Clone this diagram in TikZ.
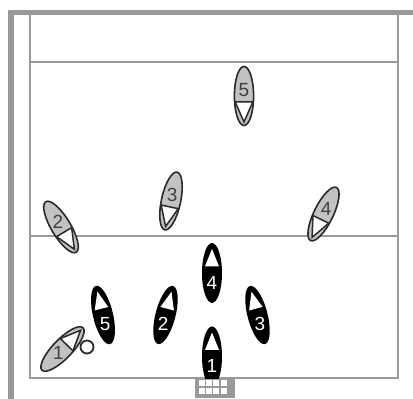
\documentclass[tikz,border=0pt]{standalone}
\usepackage{fontspec}
\setmainfont{Liberation Sans}
\definecolor{linegray}{HTML}{9A9A9A}
\definecolor{bargray}{HTML}{999999}
\definecolor{playergray}{HTML}{C2C2C2}
\definecolor{ink}{HTML}{2A2A2A}
\definecolor{numgray}{HTML}{404040}
\tikzset{
  courtline/.style={draw=linegray,line width=2pt},
  wall/.style={fill=bargray,draw=none},
  numlabel/.style={font=\fontsize{19}{19}\selectfont,inner sep=0pt},
}
% name, cx, cy (pixels, y down), rotation, number
\newcommand{\darkplayer}[5]{%
  \begin{scope}[shift={(#2,399-#3)},rotate=#4]
    \fill[black] (0,0) ellipse[x radius=10,y radius=30];
    \fill[white] (0,24) -- (-7,6.5) -- (7,6.5) -- cycle;
    \node[numlabel,text=white] (#1) at (0,-9.5) {#5};
  \end{scope}}
\newcommand{\lightplayer}[5]{%
  \begin{scope}[shift={(#2,399-#3)},rotate=#4]
    \draw[ink,line width=1.6pt,fill=playergray] (0,0) ellipse[x radius=9.6,y radius=29.5];
    \fill[white] (0,26) -- (-8.4,6) -- (8.4,6) -- cycle;
    \draw[ink,line width=1.5pt] (0,26) -- (-8.8,6) -- (8.8,6) -- cycle;
    \node[numlabel,text=numgray] (#1) at (0,-6) {#5};
  \end{scope}}
\begin{document}
\begin{tikzpicture}[x=1pt,y=1pt]
  \useasboundingbox (0,0) rectangle (413,399);
  \fill[white] (0,0) rectangle (413,399);
  % outer walls
  \path[wall] (8,0) rectangle (13.5,389);
  \path[wall] (8,383.5) rectangle (413,389);
  % court
  \draw[courtline] (30,384) -- (30,20.5) -- (397.5,20.5) -- (397.5,384);
  \draw[courtline] (30,337) -- (397.5,337);
  \draw[courtline] (30,163) -- (397.5,163);
  % dark team
  \darkplayer{d5}{103}{315}{13.5}{5}
  \darkplayer{d2}{165.5}{315}{-14.5}{2}
  \darkplayer{d3}{257.5}{315}{14.5}{3}
  \darkplayer{d4}{212}{273}{0}{4}
  \darkplayer{d1}{212}{356.5}{0}{1}
  % light team
  \lightplayer{l1}{62.5}{349}{-44}{1}
  \lightplayer{l2}{61}{227}{211}{2}
  \lightplayer{l3}{171}{201}{168}{3}
  \lightplayer{l4}{323.5}{214}{154}{4}
  \lightplayer{l5}{244}{96}{180}{5}
  % ball
  \draw[ink,line width=1.8pt,fill=white] (87,52) circle[radius=6.5];
  % goal
  \fill[bargray] (195,1) rectangle (235,20);
  \foreach \i in {0,1,2,3}{
    \fill[white] (199+\i*7.2,12.5) rectangle ++(6,6);
    \fill[white] (199+\i*7.2,5) rectangle ++(6,6);
  }
\end{tikzpicture}
\end{document}
